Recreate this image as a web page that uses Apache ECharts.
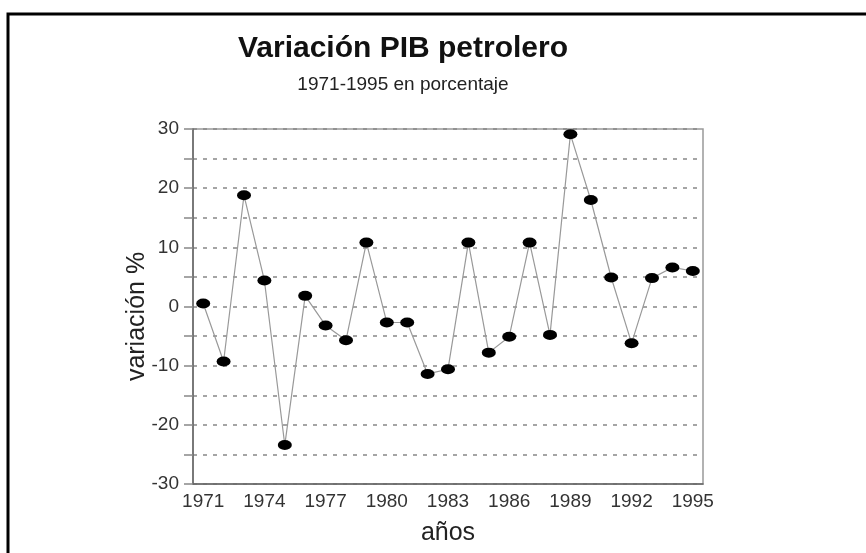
<!DOCTYPE html>
<html>
<head>
<meta charset="utf-8">
<script src="https://cdn.jsdelivr.net/npm/echarts@6/dist/echarts.min.js"></script>
<style>
html,body{margin:0;padding:0;background:#fff;}
#chart{width:866px;height:553px;}
</style>
</head>
<body>
<div id="chart"></div>
<script>
var years = ['1971','1972','1973','1974','1975','1976','1977','1978','1979','1980','1981','1982','1983','1984','1985','1986','1987','1988','1989','1990','1991','1992','1993','1994','1995'];
var variacion = [0.5,-9.3,18.8,4.4,-23.4,1.8,-3.2,-5.7,10.8,-2.7,-2.7,-11.4,-10.6,10.8,-7.8,-5.1,10.8,-4.8,29.1,18.0,4.9,-6.2,4.8,6.6,6.0];
var titleText = 'Variación PIB petrolero';
var subtitleText = '1971-1995 en porcentaje';
var xName = 'años';
var yName = 'variación %';

var chart = echarts.init(document.getElementById('chart'), null, {renderer:'canvas'});
var font = 'Liberation Sans, Arial, sans-serif';
chart.setOption({
  animation:false,
  backgroundColor:'#fff',
  title:{
    text:titleText,
    subtext:subtitleText,
    left:398, top:29, textAlign:'center',
    itemGap:11,
    textStyle:{fontFamily:font,fontSize:30,fontWeight:'bold',color:'#111'},
    subtextStyle:{fontFamily:font,fontSize:19,color:'#222'}
  },
  graphic:[{
    type:'polyline',
    shape:{points:[[8,560],[8,14],[880,14]]},
    style:{stroke:'#000',lineWidth:3,fill:null},
    silent:true
  }],
  grid:{left:193,top:129,right:163,bottom:69,show:true,borderColor:'#999',borderWidth:1.5,backgroundColor:'transparent'},
  xAxis:{
    type:'category',
    data:years,
    boundaryGap:true,
    name:xName,
    nameLocation:'middle',
    nameGap:37,
    nameMoveOverlap:false,
    nameTextStyle:{fontFamily:font,fontSize:25,color:'#222'},
    axisLine:{onZero:false,lineStyle:{color:'#666',width:1.5}},
    axisTick:{alignWithLabel:true,interval:0,inside:true,length:6,lineStyle:{color:'#666',width:1.5}},
    axisLabel:{interval:2,fontFamily:font,fontSize:19,color:'#333',margin:8},
    splitLine:{show:false}
  },
  yAxis:{
    type:'value',
    min:-30,max:30,interval:5,
    name:yName,
    nameLocation:'middle',
    nameGap:43,
    nameMoveOverlap:false,
    nameTextStyle:{fontFamily:font,fontSize:25,color:'#222',padding:[0,20,0,0]},
    axisLine:{show:true,lineStyle:{color:'#666',width:1.5}},
    axisTick:{show:true,length:9,lineStyle:{color:'#888',width:1.5}},
    axisLabel:{fontFamily:font,fontSize:19,color:'#333',margin:14,
      formatter:function(v){return v%10===0?String(v):'';}},
    splitLine:{show:true,lineStyle:{color:'#888',width:1.5,type:[4,6]}}
  },
  series:[{
    type:'line',
    data:variacion,
    symbol:'circle',
    symbolSize:[14,10],
    itemStyle:{color:'#000'},
    lineStyle:{color:'#999',width:1.2}
  }]
});
</script>
</body>
</html>
